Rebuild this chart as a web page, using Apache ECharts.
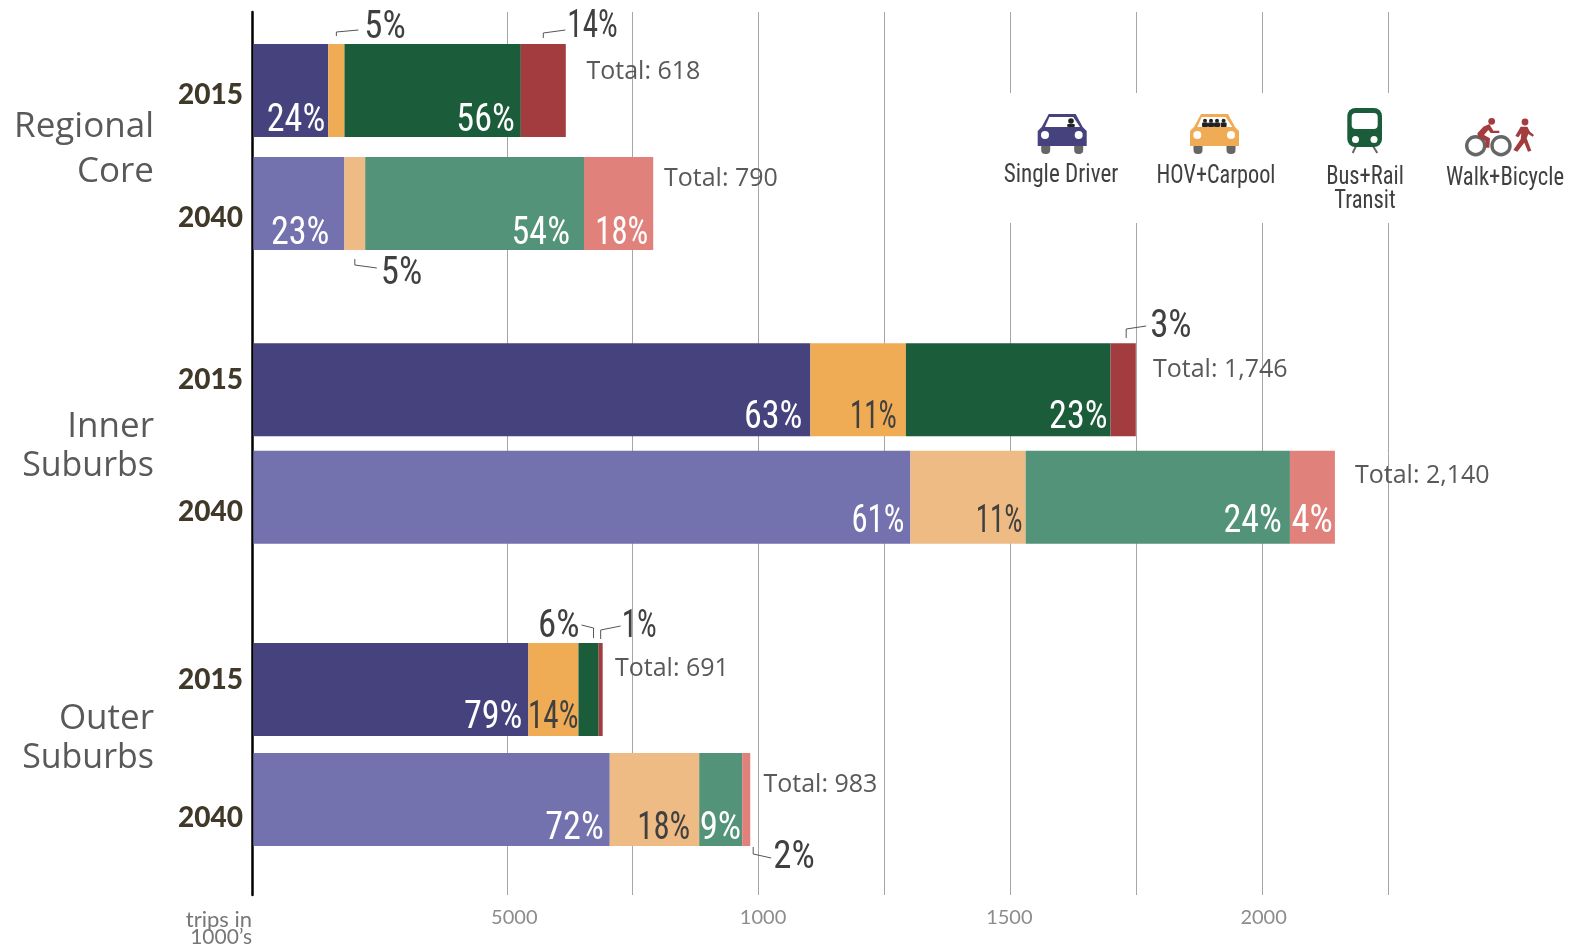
<!DOCTYPE html>
<html><head><meta charset="utf-8">
<style>html,body{margin:0;padding:0;background:#fff}#c{width:1575px;height:944px}</style>
<script src="https://cdn.jsdelivr.net/npm/echarts@6/dist/echarts.min.js"></script>
</head><body><div id="c"></div>
<script>
const years = ['2015','2040'];
const regions = ['Regional\nCore','Inner\nSuburbs','Outer\nSuburbs'];
const modes = ['Single Driver','HOV+Carpool','Bus+Rail Transit','Walk+Bicycle'];
const driver2015 = [148,1102,544];
const driver2040 = [180,1300,705];
const hov2015 = [32,189,99];
const hov2040 = [41,228,177];
const transit2015 = [349,405,40];
const transit2040 = [433,523,85];
const walk2015 = [89,50,8];
const walk2040 = [137,89,16];
const totals2015 = ['618','1,746','691'];
const totals2040 = ['790','2,140','983'];
const pctDriver = [['24%','23%'],['63%','61%'],['79%','72%']];
const pctHov = [['',''],['11%','11%'],['14%','18%']];
const pctTransit = [['56%','54%'],['23%','24%'],['','9%']];
const pctWalk = [['','18%'],['','4%'],['','']];
const gridlineValues = [243,500,750,1000,1250,1500,1750,2000,2250];
const tickValues = [500,1000,1500,2000];
const tickLabels = ['5000','1000','1500','2000'];
const colors2015 = ['#46427d','#f0ab55','#1b5c3a','#a33c3e'];
const colors2040 = ['#7471af','#eebb85','#53937a','#e0827b'];

const SANS='"Open Sans"', NARROW='"Roboto Condensed","Liberation Sans Narrow","Liberation Sans"';
const DARK='#404040', GREY='#595959';
const LEFT=253.5, XW=1137, XMAX=2250;
const gridGeo=[[34,226],[336,215],[634.5,220]];
const grids=[], xAxes=[], yAxes=[], series=[];
const vals15=[driver2015,hov2015,transit2015,walk2015], vals40=[driver2040,hov2040,transit2040,walk2040];
gridGeo.forEach((g,i)=>{
  grids.push({left:LEFT,width:XW,top:g[0],height:g[1]});
  xAxes.push({gridIndex:i,type:'value',min:0,max:XMAX,show:false,splitLine:{show:false}});
  yAxes.push({gridIndex:i,type:'category',data:years,inverse:true,axisLine:{show:false},axisTick:{show:false},axisLabel:{show:false}});
  modes.forEach((m,k)=>{
    series.push({type:'bar',name:m,xAxisIndex:i,yAxisIndex:i,stack:'r'+i,barWidth:93,z:3,
      data:[0,1].map(y=>({value:(y?vals40:vals15)[k][i],itemStyle:{color:(y?colors2040:colors2015)[k]}})),
      silent:true,animation:false});
  });
});
// full-height axis grid carrying the gridlines and tick labels
grids.push({left:255,width:1133,top:12,height:883});
xAxes.push({gridIndex:3,type:'value',min:0,max:XMAX,
  axisLine:{show:false},axisTick:{show:false,customValues:gridlineValues},
  splitLine:{show:true,showMinLine:false,lineStyle:{color:'#a6a6a6',width:1}},
  axisLabel:{show:true,customValues:tickValues,color:'#8c8c8c',fontFamily:'Lato',fontSize:20,margin:13,showMinLabel:true,showMaxLabel:true,
    formatter:v=>{const t=tickLabels[tickValues.indexOf(v)];return t?'{s'+t+'|'+t+'}':'';},
    rich:{s5000:{padding:[0,0,0,15]},s1000:{padding:[0,0,0,9]},s1500:{padding:[0,2,0,0]},s2000:{padding:[0,0,0,3]}}}});
yAxes.push({gridIndex:3,type:'value',show:true,min:0,max:1,offset:3,axisTick:{show:false},axisLabel:{show:false},splitLine:{show:false},
  axisLine:{show:true,onZero:false,lineStyle:{color:'#000',width:2.5}}});

const chart=echarts.init(document.getElementById('c'),null,{renderer:'canvas'});
chart.setOption({animation:false,backgroundColor:'#fff',grid:grids,xAxis:xAxes,yAxis:yAxes,series});

function text(x,y,t,o,sx){return {type:'text',z:20,x,y,scaleX:sx||1,style:Object.assign({x:0,y:0,text:t,fill:GREY,fontFamily:SANS,fontSize:24,align:'left',verticalAlign:'middle'},o||{})};}
function pctScale(t){if(t==='14%')return 0.82;const ones=(t.match(/1/g)||[]).length; const len=t.length;
  if(len===2) return ones?0.82:0.97; return ones===2?0.76:ones===1?0.86:0.95;}
const g=[];
g.push({type:'rect',z:5,shape:{x:1000,y:93,width:575,height:130},style:{fill:'#fff'}});
// region titles
[[127,172],[427,466],[719,758]].forEach((ys,i)=>{
  regions[i].split('\n').forEach((t,j)=>g.push(text(154,ys[j],t,{align:'right',fontSize:35},t==='Suburbs'?0.97:1)));
});
// year labels
[[94.5,217.5],[379.5,511.5],[680,817.5]].forEach(ys=>ys.forEach((y,j)=>g.push(text(243,y,years[j],{align:'right',fontFamily:'Lato',fontWeight:900,fontSize:28,fill:'#40392a'}))));
// totals
[[586.5,72],[664,179],[1153,370],[1355,476],[615,669],[763.5,784.5]].forEach((p,i)=>{
  const t=[totals2015[0],totals2040[0],totals2015[1],totals2040[1],totals2015[2],totals2040[2]][i];
  g.push(text(p[0],p[1],'Total: '+t,{fontSize:25}));
});
function edge(i,y,k){const v=y?vals40:vals15;let s=0;for(let j=0;j<=k;j++)s+=v[j][i];return s;}
function px(i,v){return chart.convertToPixel({xAxisIndex:i},v);}
// percentages inside the bars, right-aligned to their segment end with an inset
const pctAll=[pctDriver,pctHov,pctTransit,pctWalk];
const inset={'0,0,0':3,'0,0,2':6,'0,1,0':15,'0,1,2':14,'0,1,3':5,'1,0,0':8,'1,0,1':9,'1,0,2':3,'1,1,0':6,'1,1,1':3,'1,1,2':8,'1,1,3':2,'2,0,0':6,'2,0,1':0,'2,1,0':6,'2,1,1':9,'2,1,2':1};
const pctY=[[121,234],[418,522],[718,829]];
pctAll.forEach((arr,k)=>arr.forEach((row,i)=>row.forEach((t,y)=>{
  if(!t) return;
  g.push(text(px(i,edge(i,y,k))-inset[[i,y,k].join(',')],pctY[i][y],t,{align:'right',fontFamily:NARROW,fontSize:38,fill:k===1?DARK:'#fff'},pctScale(t)));
})));
// callouts
const callouts=[
 [0,0,1,'5%',[[0,36],[0,32],[22,30]],[28,28],'left'],
 [0,0,3,'14%',[[0,38],[0,33],[22,30]],[24,27],'left'],
 [0,1,1,'5%',[[0,259],[0,265],[22,268]],[26,274],'left'],
 [1,0,3,'3%',[[3,338],[3,329],[23,326]],[27,327],'left'],
 [2,0,2,'6%',[[5,638],[5,628],[-7,625]],[-9,627],'right'],
 [2,0,3,'1%',[[0,639],[0,630],[20,626]],[21,627],'left'],
 [2,1,3,'2%',[[7,847],[7,854],[25,858]],[27,858],'left']
];
callouts.forEach(c=>{
  const v=(edge(c[0],c[1],c[2])+edge(c[0],c[1],c[2]-1))/2;
  const x=px(c[0],v);
  g.push({type:'polyline',z:20,shape:{points:c[4].map(p=>[x+p[0],p[1]])},style:{stroke:'#555',lineWidth:1,fill:null}});
  g.push(text(x+c[5][0],c[5][1],c[3],{fontFamily:NARROW,fontSize:38,fill:DARK,align:c[6]},pctScale(c[3])));
});
// axis title
g.push(text(252,919.5,'trips in',{align:'right',fontSize:22,fontFamily:'Lato',fill:'#777'}));
g.push(text(252,937,'1000\u2019s',{align:'right',fontSize:21,fontFamily:'Lato',fill:'#777'}));
// legend labels
[[1061,175,'Single Driver',.89],[1216,176,'HOV+Carpool',.855],[1365,177,'Bus+Rail',.865],[1365,201,'Transit',.87],[1505,178,'Walk+Bicycle',.873]].forEach(a=>
  g.push(text(a[0],a[1],a[2],{align:'center',fontFamily:NARROW,fontSize:26,fill:DARK},a[3])));
// legend icons
const icon=els=>({type:'group',children:els.map(e=>Object.assign({z:21},e))});
function car(x,color,people,r){
  const y=114, els=[];
  [[3.5,9],[36.5,9]].forEach(w=>els.push({type:'rect',shape:{x:x+w[0],y:y+26,width:w[1],height:14,r:4},style:{fill:'#666'}}));
  els.push({type:'polygon',shape:{points:[[11,0],[38,0],[45,13],[49,17],[49,32],[0,32],[0,17],[4,13]].map(p=>[x+p[0],y+p[1]])},style:{fill:color}});
  els.push({type:'polygon',shape:{points:[[11.7,3],[35.6,3],[42.3,13],[7.3,13]].map(p=>[x+p[0],y+p[1]])},style:{fill:'#fff'}});
  els.push({type:'circle',shape:{cx:x+7.3,cy:y+21,r:4},style:{fill:'#fff'}});
  els.push({type:'circle',shape:{cx:x+41,cy:y+21,r:4},style:{fill:'#fff'}});
  people.forEach(p=>{
    els.push({type:'circle',shape:{cx:x+p,cy:y+(r>2.5?7:6.8),r},style:{fill:'#222'}});
    els.push({type:'rect',shape:{x:x+p-r-1,y:y+(r>2.5?10:8.5),width:2*r+2,height:r>2.5?3:4.5,r:1},style:{fill:'#222'}});
  });
  return icon(els);
}
g.push(car(1037.7,colors2015[0],[33.3],2.8));
g.push(car(1190,colors2015[1],[15,21,27,33.6],2));
// train
g.push(icon([
  {type:'line',shape:{x1:1356,y1:146,x2:1352.7,y2:153},style:{stroke:'#666',lineWidth:2}},
  {type:'line',shape:{x1:1373,y1:146,x2:1377.3,y2:153},style:{stroke:'#666',lineWidth:2}},
  {type:'rect',shape:{x:1347.3,y:108,width:34.7,height:39,r:8},style:{fill:colors2015[2]}},
  {type:'rect',shape:{x:1351.7,y:113,width:26,height:16,r:4},style:{fill:'#fff'}},
  {type:'circle',shape:{cx:1355.5,cy:139.5,r:3.5},style:{fill:'#fff'}},
  {type:'circle',shape:{cx:1374,cy:139.5,r:3.5},style:{fill:'#fff'}}
]));
// bike + walker
const RED=colors2015[3];
const mapZ=pts=>pts.map(p=>[1330+p[0]/3,100+p[1]/3]);
g.push(icon([
  {type:'circle',shape:{cx:1475.7,cy:145.7,r:9},style:{fill:null,stroke:'#666',lineWidth:3.4}},
  {type:'circle',shape:{cx:1501,cy:145.7,r:9},style:{fill:null,stroke:'#666',lineWidth:3.4}},
  {type:'circle',shape:{cx:1491.7,cy:121.3,r:3.4},style:{fill:RED}},
  {type:'polygon',shape:{points:mapZ([[460,80],[478,72],[490,92],[508,92],[508,99],[482,99],[475,90],[462,105],[480,115],[478,143],[468,143],[466,122],[445,112],[442,100]])},style:{fill:RED}},
  {type:'circle',shape:{cx:1525,cy:122,r:3.4},style:{fill:RED}},
  {type:'polygon',shape:{points:mapZ([[572,80],[592,80],[600,95],[612,105],[608,110],[595,102],[590,115],[604,152],[594,155],[583,128],[562,155],[550,150],[572,118],[574,100],[565,112],[556,108]])},style:{fill:RED}}
]));
chart.setOption({graphic:{elements:g}});
</script></body></html>
